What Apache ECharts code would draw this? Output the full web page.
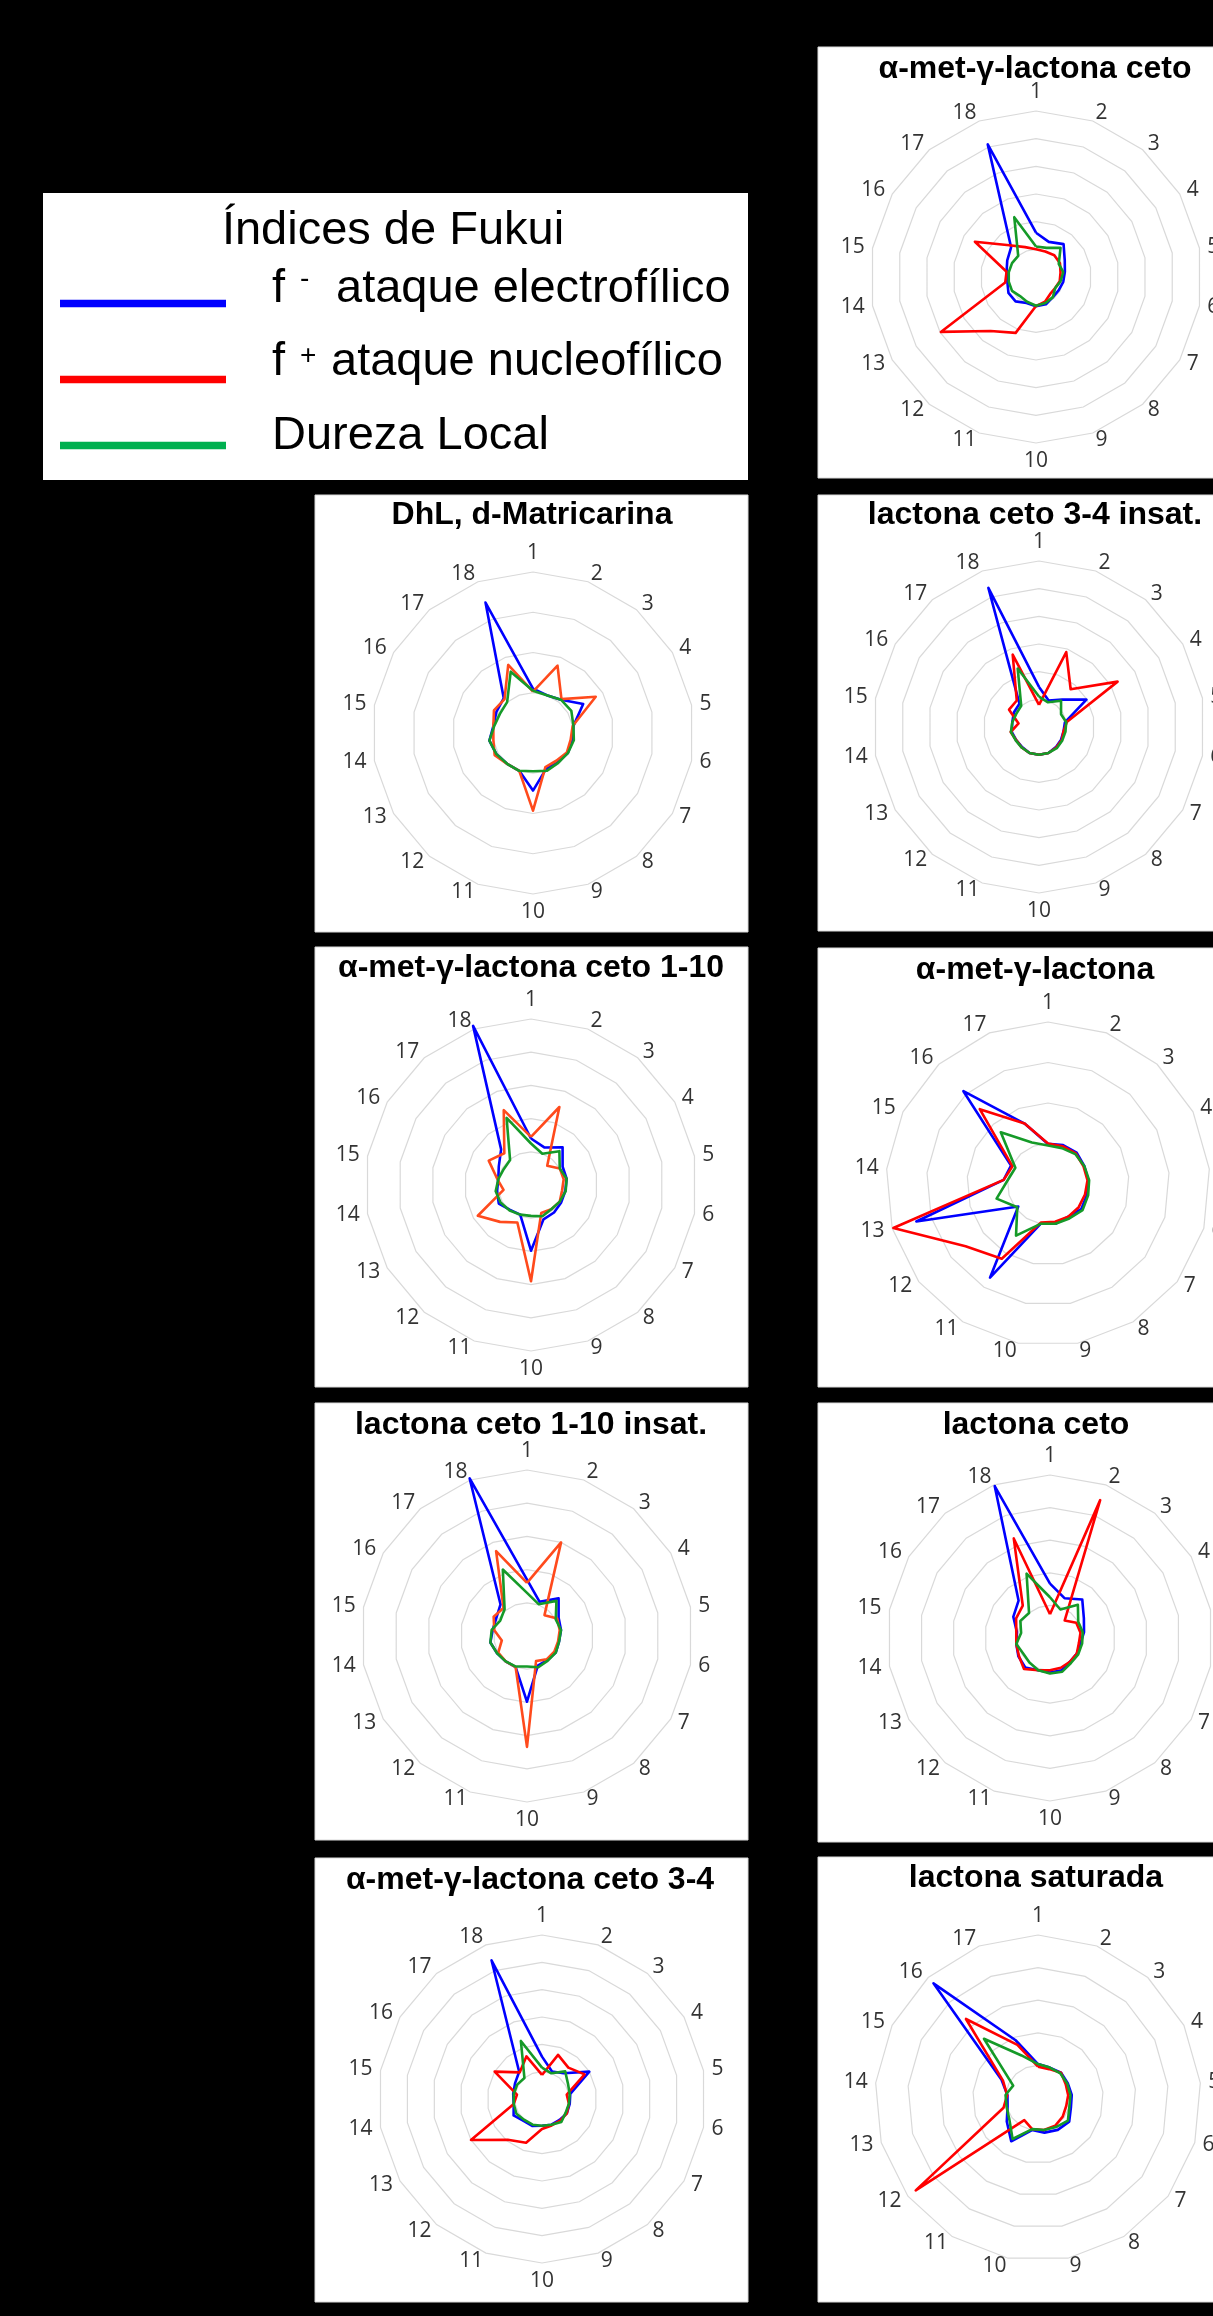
<!DOCTYPE html>
<html>
<head>
<meta charset="utf-8">
<script src="https://cdn.jsdelivr.net/npm/echarts@6.0.0/dist/echarts.min.js"></script>
<style>
html,body{margin:0;padding:0;background:#000;}
#chart{width:1213px;height:2316px;}
</style>
</head>
<body>
<div id="chart"></div>
<script>
// ---------- categories ----------
const cats18 = ['1','2','3','4','5','6','7','8','9','10','11','12','13','14','15','16','17','18'];
const cats17 = ['1','2','3','4','5','6','7','8','9','10','11','12','13','14','15','16','17'];
const seriesNames = ['f - ataque electrofílico', 'f + ataque nucleofílico', 'Dureza Local'];

// ---------- values (in grid-ring units) ----------
// α-met-γ-lactona ceto
const aceto_fminus = [1.6, 1.35, 1.55, 1.2, 1.06, 1.0, 0.95, 0.95, 1.05, 1.06, 1.0, 1.15, 1.15, 1.05, 1.08, 1.2, 1.4, 5.1];
const aceto_fplus  = [1.0, 0.98, 1.03, 1.0, 0.9, 0.87, 0.8, 0.8, 0.95, 1.05, 2.15, 2.55, 3.97, 1.13, 1.08, 2.55, 1.5, 1.15];
const aceto_dureza = [1.1, 1.12, 1.38, 0.95, 1.0, 0.9, 0.8, 0.95, 1.0, 1.04, 0.95, 0.9, 1.0, 1.0, 1.0, 1.0, 1.0, 2.3];
// lactona ceto 3-4 insat.
const l34i_fminus = [1.45, 1.02, 1.3, 1.98, 0.95, 0.9, 0.92, 0.95, 1.0, 1.0, 1.0, 0.95, 0.95, 1.0, 0.98, 1.05, 1.1, 5.35];
const l34i_fplus  = [0.8, 2.88, 1.78, 3.28, 1.02, 0.9, 0.95, 0.97, 1.0, 1.0, 1.0, 0.97, 0.95, 1.04, 0.75, 1.25, 1.25, 2.78];
const l34i_dureza = [1.1, 0.95, 1.24, 0.92, 1.0, 0.97, 0.97, 1.0, 1.0, 1.0, 1.0, 0.97, 0.97, 1.03, 0.98, 0.95, 1.0, 2.25];
// DhL, d-Matricarina
const dhl_fminus = [1.1, 1.0, 1.08, 1.44, 1.02, 1.0, 1.0, 0.95, 0.95, 1.43, 1.0, 1.0, 1.05, 1.1, 1.0, 1.05, 1.13, 3.45];
const dhl_fplus  = [1.03, 1.78, 1.1, 1.8, 1.0, 0.95, 0.97, 0.9, 0.9, 1.93, 1.0, 1.0, 1.1, 1.0, 1.0, 1.12, 1.1, 1.8];
const dhl_dureza = [1.05, 1.0, 1.08, 1.1, 1.02, 1.03, 1.0, 0.97, 1.0, 0.95, 1.0, 1.0, 1.05, 1.1, 0.98, 0.95, 1.0, 1.62];
// α-met-γ-lactona ceto 1-10
const ac110_fminus = [1.4, 1.2, 1.48, 1.1, 1.09, 1.05, 1.05, 1.08, 1.1, 1.98, 0.95, 0.98, 1.12, 1.04, 1.0, 1.12, 1.4, 5.1];
const ac110_fplus  = [1.45, 2.5, 0.76, 1.0, 1.0, 0.95, 1.0, 0.95, 0.9, 2.9, 1.2, 1.45, 1.85, 0.84, 1.03, 1.47, 1.25, 2.4];
const ac110_dureza = [1.25, 1.0, 1.33, 1.0, 1.09, 1.06, 1.0, 0.95, 1.0, 0.93, 0.95, 1.0, 1.06, 1.08, 1.0, 0.95, 0.98, 2.15];
// α-met-γ-lactona (17)
const amgl_fminus = [0.99, 1.03, 1.05, 1.0, 1.0, 1.0, 1.03, 0.95, 1.0, 1.0, 2.72, 0.92, 3.38, 1.1, 1.02, 3.1, 1.6];
const amgl_fplus  = [1.0, 1.0, 1.02, 0.98, 0.98, 0.95, 0.95, 0.95, 0.95, 0.97, 2.17, 2.55, 3.97, 1.1, 0.98, 2.5, 1.6];
const amgl_dureza = [0.95, 0.95, 1.0, 1.0, 1.02, 1.03, 1.07, 1.0, 1.0, 1.0, 1.5, 0.95, 1.32, 1.0, 0.9, 1.73, 1.1];
// lactona ceto 1-10 insat.
const l110i_fminus = [1.7, 1.1, 1.48, 1.1, 1.04, 0.98, 1.0, 0.95, 0.95, 1.98, 1.0, 1.0, 1.04, 1.12, 1.05, 1.07, 1.24, 5.05];
const l110i_fplus  = [1.6, 3.0, 0.82, 1.05, 1.0, 0.95, 0.95, 0.92, 0.8, 3.34, 1.0, 1.0, 1.0, 0.77, 1.0, 1.16, 1.1, 2.72];
const l110i_dureza = [1.3, 1.02, 1.38, 1.0, 1.04, 0.98, 1.0, 0.97, 1.0, 0.92, 0.98, 1.0, 1.04, 1.12, 1.08, 0.93, 1.05, 2.13];
// lactona ceto
const lceto_fminus = [1.67, 1.3, 1.54, 1.2, 1.06, 0.95, 0.95, 0.95, 1.05, 1.06, 1.05, 1.18, 1.12, 1.05, 1.03, 1.3, 1.5, 4.96];
const lceto_fplus  = [0.73, 4.5, 0.7, 0.93, 0.95, 0.9, 0.95, 0.95, 0.97, 0.99, 1.05, 1.24, 1.1, 1.05, 1.05, 1.2, 1.3, 3.25];
const lceto_dureza = [1.25, 0.93, 1.33, 1.0, 1.02, 1.0, 1.0, 1.0, 1.1, 1.09, 1.05, 0.98, 0.95, 1.05, 0.9, 1.05, 1.0, 2.1];
// α-met-γ-lactona ceto 3-4
const ac34_fminus = [1.55, 1.07, 1.23, 2.0, 1.05, 1.03, 1.05, 1.0, 1.0, 0.98, 1.05, 1.05, 1.2, 1.05, 1.07, 1.14, 1.3, 5.4];
const ac34_fplus  = [0.88, 1.72, 1.5, 1.8, 0.92, 1.0, 1.05, 1.03, 1.03, 1.1, 1.7, 1.95, 3.0, 1.05, 0.93, 2.0, 1.27, 1.66];
const ac34_dureza = [1.15, 1.0, 1.32, 1.1, 1.03, 1.0, 1.0, 1.1, 1.0, 0.98, 1.0, 1.0, 1.08, 1.05, 1.05, 1.05, 1.0, 2.26];
// lactona saturada (17)
const lsat_fminus = [1.04, 1.0, 1.05, 1.02, 1.04, 1.05, 1.2, 1.15, 1.08, 1.0, 1.56, 1.2, 0.97, 0.94, 1.25, 4.76, 1.9];
const lsat_fplus  = [0.96, 0.95, 1.05, 0.95, 0.93, 0.9, 0.95, 1.0, 1.0, 0.97, 0.8, 4.7, 1.1, 0.95, 1.2, 3.28, 1.75];
const lsat_dureza = [1.04, 1.0, 1.02, 1.0, 1.0, 1.0, 1.15, 1.05, 1.0, 0.97, 1.48, 1.1, 1.0, 1.0, 0.85, 2.46, 1.4];

// ---------- layout (positions / styles) ----------
const panels = [
  {title:'α-met-γ-lactona ceto', cats:cats18, rings:6, data:[aceto_fminus, aceto_fplus, aceto_dureza], cx:1036, cy:277, r:166, tx:1035, ty:69, box:[818,47,400,431], red:'#FF0000'},
  {title:'lactona ceto 3-4 insat.', cats:cats18, rings:6, data:[l34i_fminus, l34i_fplus, l34i_dureza], cx:1039, cy:727, r:166, tx:1035, ty:515, box:[818,495,400,436], red:'#FF0000'},
  {title:'DhL, d-Matricarina', cats:cats18, rings:4, data:[dhl_fminus, dhl_fplus, dhl_dureza], cx:533, cy:733, r:161, tx:532, ty:515, box:[315,495,433,437], red:'#FF4A1C'},
  {title:'α-met-γ-lactona ceto 1-10', cats:cats18, rings:5, data:[ac110_fminus, ac110_fplus, ac110_dureza], cx:531, cy:1185, r:166, tx:531, ty:968, box:[315,947,433,440], red:'#FF4A1C'},
  {title:'α-met-γ-lactona', cats:cats17, rings:4, data:[amgl_fminus, amgl_fplus, amgl_dureza], cx:1048, cy:1184, r:162, tx:1035, ty:970, box:[818,948,400,439], red:'#FF0000'},
  {title:'lactona ceto 1-10 insat.', cats:cats18, rings:5, data:[l110i_fminus, l110i_fplus, l110i_dureza], cx:527, cy:1636, r:166, tx:531, ty:1425, box:[315,1403,433,437], red:'#FF4A1C'},
  {title:'lactona ceto', cats:cats18, rings:5, data:[lceto_fminus, lceto_fplus, lceto_dureza], cx:1050, cy:1638, r:163, tx:1036, ty:1425, box:[818,1403,400,439], red:'#FF0000'},
  {title:'α-met-γ-lactona ceto 3-4', cats:cats18, rings:6, data:[ac34_fminus, ac34_fplus, ac34_dureza], cx:542, cy:2099, r:164, tx:530, ty:1880, box:[315,1858,433,444], red:'#FF0000'},
  {title:'lactona saturada', cats:cats17, rings:5, data:[lsat_fminus, lsat_fplus, lsat_dureza], cx:1038, cy:2098, r:163, tx:1036, ty:1878, box:[818,1857,400,445], red:'#FF0000'}
];
const BLUE = '#0000FF', GREEN = '#159A28';

// ECharts lays radar indicators counter-clockwise; reorder so categories run clockwise
function cw(arr){ return [arr[0]].concat(arr.slice(1).reverse()); }

const chart = echarts.init(document.getElementById('chart'), null, {renderer:'canvas'});

const LFONT = '47px "Liberation Sans", Arial, sans-serif';
const SFONT = '28px "Liberation Sans", Arial, sans-serif';
const graphic = [];
// legend box
graphic.push({type:'rect', shape:{x:43, y:193, width:705, height:287}, style:{fill:'#fff'}, z:1});
graphic.push({type:'text', x:393, y:231, style:{text:'Índices de Fukui', font:LFONT, fill:'#000', align:'center', verticalAlign:'middle'}, z:10});
graphic.push({type:'line', shape:{x1:60, y1:303.5, x2:226, y2:303.5}, style:{stroke:'#0000FF', lineWidth:7.5}, z:10});
graphic.push({type:'line', shape:{x1:60, y1:379.5, x2:226, y2:379.5}, style:{stroke:'#FF0000', lineWidth:7.5}, z:10});
graphic.push({type:'line', shape:{x1:60, y1:445.5, x2:226, y2:445.5}, style:{stroke:'#00B050', lineWidth:7.5}, z:10});
graphic.push({type:'text', x:272, y:289, style:{text:'f', font:LFONT, fill:'#000', align:'left', verticalAlign:'middle'}, z:10});
graphic.push({type:'text', x:300, y:279, style:{text:'-', font:SFONT, fill:'#000', align:'left', verticalAlign:'middle'}, z:10});
graphic.push({type:'text', x:336, y:289, style:{text:'ataque electrofílico', font:LFONT, fill:'#000', align:'left', verticalAlign:'middle'}, z:10});
graphic.push({type:'text', x:272, y:362, style:{text:'f', font:LFONT, fill:'#000', align:'left', verticalAlign:'middle'}, z:10});
graphic.push({type:'text', x:300, y:356, style:{text:'+', font:SFONT, fill:'#000', align:'left', verticalAlign:'middle'}, z:10});
graphic.push({type:'text', x:331, y:362, style:{text:'ataque nucleofílico', font:LFONT, fill:'#000', align:'left', verticalAlign:'middle'}, z:10});
graphic.push({type:'text', x:272, y:436, style:{text:'Dureza Local', font:LFONT, fill:'#000', align:'left', verticalAlign:'middle'}, z:10});

panels.forEach(p => {
  graphic.push({type:'rect', shape:{x:p.box[0], y:p.box[1], width:p.box[2], height:p.box[3]}, style:{fill:'#fff', stroke:'#D9D9D9', lineWidth:1}, z:1});
  graphic.push({type:'text', x:p.tx, y:p.ty, style:{text:p.title, font:'bold 32px "Liberation Sans", Arial, sans-serif', fill:'#000', align:'center', verticalAlign:'middle'}, z:10});
});

const option = {
  backgroundColor:'#000',
  animation:false,
  graphic: graphic,
  radar: panels.map(p => ({
    center:[p.cx, p.cy],
    radius:p.r,
    startAngle:90,
    splitNumber:p.rings,
    shape:'polygon',
    z:2,
    indicator: cw(p.cats).map(n => ({name:n, min:0, max:p.rings})),
    axisName:{color:'#333333', fontSize:21, fontFamily:'"Open Sans", sans-serif'},
    nameGap:8,
    splitLine:{lineStyle:{color:'#D9D9D9', width:1.2}},
    splitArea:{show:false},
    axisLine:{show:false},
    axisTick:{show:false},
    axisLabel:{show:false}
  })),
  series: panels.map((p, i) => ({
    type:'radar',
    radarIndex:i,
    symbol:'none',
    silent:true,
    z:3,
    data: p.data.map((vals, j) => {
      const col = j === 0 ? BLUE : (j === 1 ? p.red : GREEN);
      return {name: seriesNames[j], value: cw(vals), lineStyle:{color:col, width:2.6}, itemStyle:{color:col}};
    })
  }))
};
chart.setOption(option);
</script>
</body>
</html>
